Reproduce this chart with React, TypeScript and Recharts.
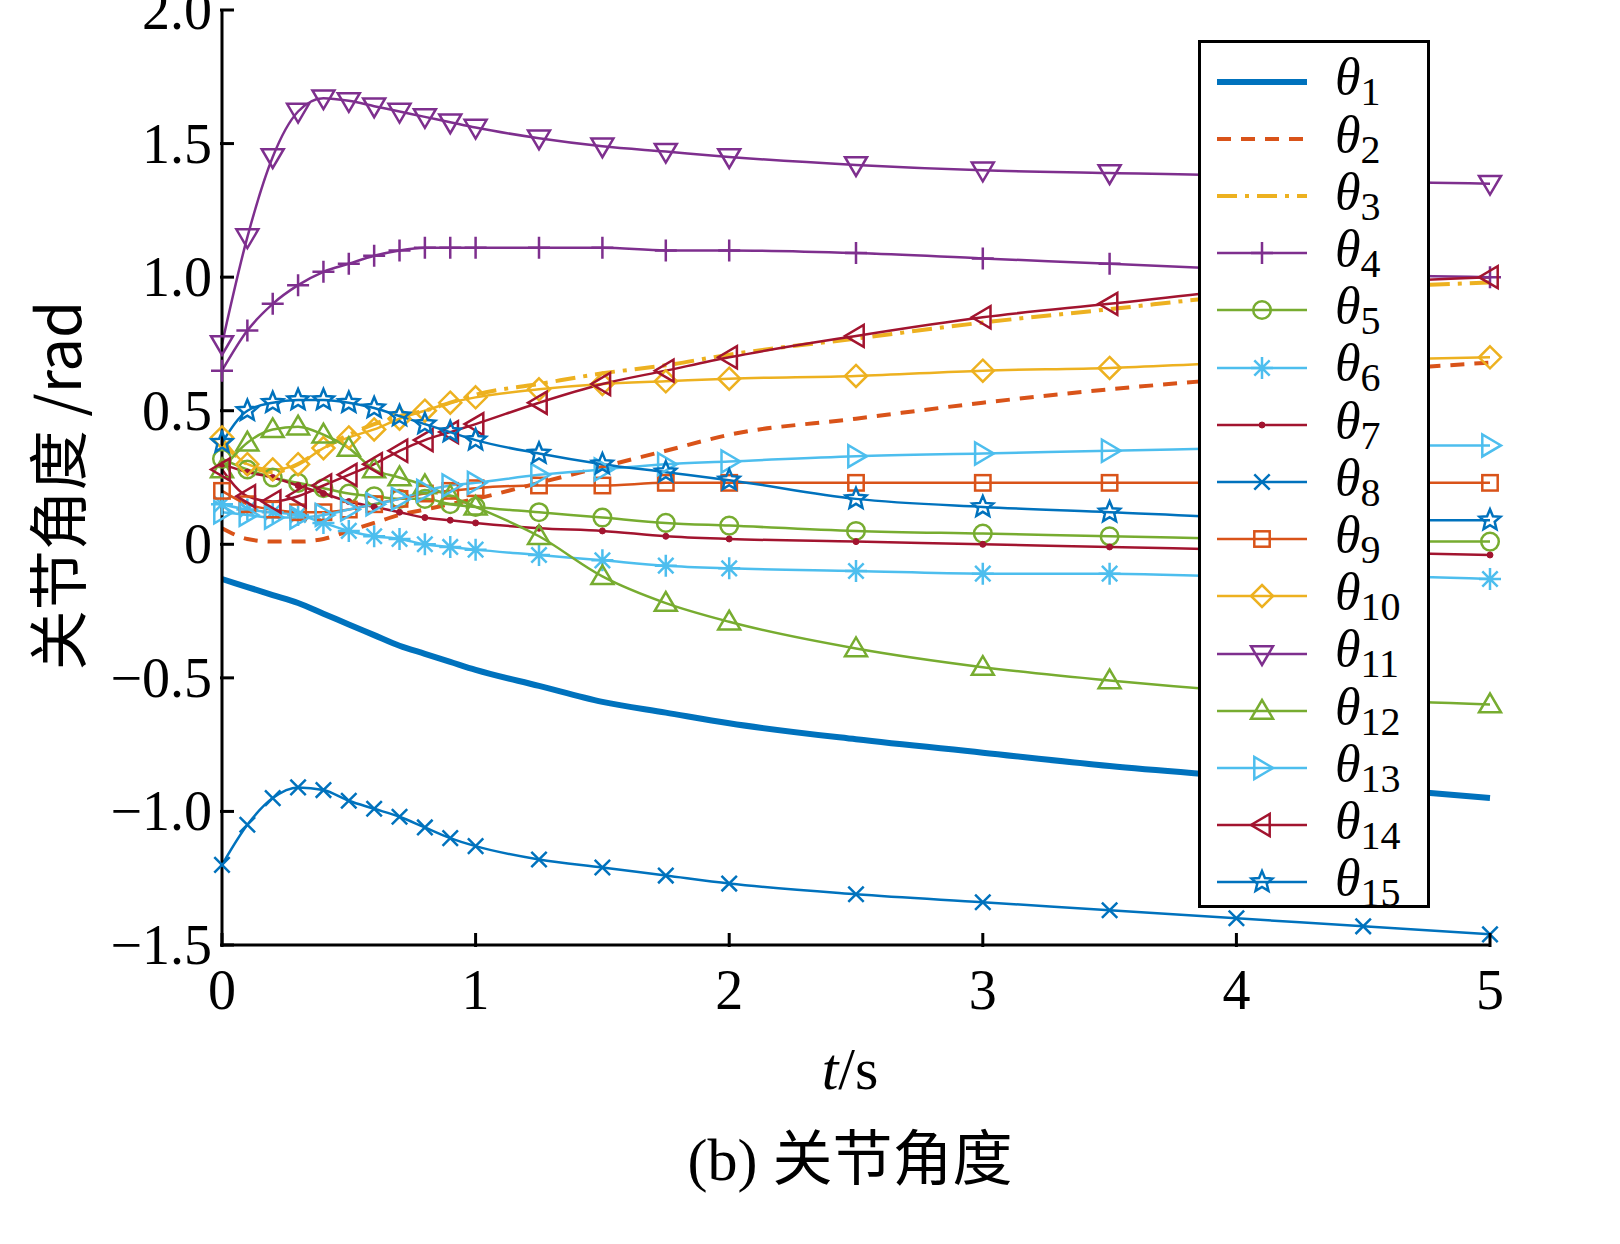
import React from "react";
import { LineChart, Line, XAxis, YAxis } from "recharts";

const T = [0, 0.1, 0.2, 0.3, 0.4, 0.5, 0.6, 0.7, 0.8, 0.9, 1.0, 1.25, 1.5, 1.75, 2, 2.5, 3, 3.5, 4, 4.5, 5];
const th1 = [-0.13, -0.16, -0.19, -0.22, -0.26, -0.3, -0.34, -0.38, -0.41, -0.44, -0.47, -0.53, -0.59, -0.63, -0.67, -0.73, -0.78, -0.83, -0.87, -0.91, -0.95];
const th2 = [0.06, 0.02, 0.01, 0.01, 0.02, 0.05, 0.08, 0.11, 0.13, 0.15, 0.17, 0.23, 0.29, 0.35, 0.41, 0.47, 0.53, 0.58, 0.62, 0.65, 0.68];
const th3 = [0.38, 0.3, 0.27, 0.3, 0.36, 0.41, 0.45, 0.48, 0.5, 0.53, 0.56, 0.6, 0.64, 0.67, 0.71, 0.77, 0.83, 0.88, 0.93, 0.96, 0.98];
const th4 = [0.65, 0.8, 0.9, 0.97, 1.02, 1.05, 1.08, 1.1, 1.11, 1.11, 1.11, 1.11, 1.11, 1.1, 1.1, 1.09, 1.07, 1.05, 1.03, 1.01, 1.0];
const th5 = [0.32, 0.28, 0.25, 0.23, 0.21, 0.19, 0.18, 0.17, 0.17, 0.15, 0.14, 0.12, 0.1, 0.08, 0.07, 0.05, 0.04, 0.03, 0.02, 0.01, 0.01];
const th6 = [0.15, 0.13, 0.12, 0.11, 0.08, 0.05, 0.03, 0.02, 0.0, -0.01, -0.02, -0.04, -0.06, -0.08, -0.09, -0.1, -0.11, -0.11, -0.12, -0.12, -0.13];
const th7 = [0.3, 0.27, 0.25, 0.22, 0.19, 0.16, 0.14, 0.12, 0.1, 0.09, 0.08, 0.06, 0.05, 0.03, 0.02, 0.01, 0.0, -0.01, -0.02, -0.03, -0.04];
const th8 = [-1.2, -1.05, -0.95, -0.91, -0.92, -0.96, -0.99, -1.02, -1.06, -1.1, -1.13, -1.18, -1.21, -1.24, -1.27, -1.31, -1.34, -1.37, -1.4, -1.43, -1.46];
const th9 = [0.2, 0.15, 0.13, 0.12, 0.12, 0.13, 0.15, 0.17, 0.19, 0.2, 0.21, 0.22, 0.22, 0.23, 0.23, 0.23, 0.23, 0.23, 0.23, 0.23, 0.23];
const th10 = [0.4, 0.3, 0.28, 0.3, 0.36, 0.4, 0.43, 0.47, 0.5, 0.53, 0.55, 0.58, 0.6, 0.61, 0.62, 0.63, 0.65, 0.66, 0.68, 0.69, 0.7];
const th11 = [0.75, 1.15, 1.45, 1.62, 1.67, 1.66, 1.64, 1.62, 1.6, 1.58, 1.56, 1.52, 1.49, 1.47, 1.45, 1.42, 1.4, 1.39, 1.38, 1.36, 1.35];
const th12 = [0.28, 0.38, 0.43, 0.44, 0.41, 0.36, 0.28, 0.25, 0.22, 0.18, 0.14, 0.03, -0.12, -0.22, -0.29, -0.39, -0.46, -0.51, -0.55, -0.58, -0.6];
const th13 = [0.12, 0.11, 0.1, 0.1, 0.11, 0.13, 0.15, 0.17, 0.2, 0.22, 0.23, 0.26, 0.28, 0.3, 0.31, 0.33, 0.34, 0.35, 0.36, 0.37, 0.37];
const th14 = [0.28, 0.18, 0.16, 0.18, 0.22, 0.26, 0.3, 0.35, 0.39, 0.42, 0.45, 0.53, 0.6, 0.65, 0.7, 0.78, 0.85, 0.9, 0.95, 0.98, 1.0];
const th15 = [0.38, 0.5, 0.53, 0.54, 0.54, 0.53, 0.51, 0.48, 0.45, 0.42, 0.39, 0.34, 0.3, 0.27, 0.24, 0.17, 0.14, 0.12, 0.1, 0.09, 0.09];

const ALL = [th1, th2, th3, th4, th5, th6, th7, th8, th9, th10, th11, th12, th13, th14, th15];
const COLORS = ["#0072BD", "#D95319", "#EDB120", "#7E2F8E", "#77AC30", "#4DBEEE", "#A2142F", "#0072BD", "#D95319", "#EDB120", "#7E2F8E", "#77AC30", "#4DBEEE", "#A2142F", "#0072BD"];
const MARKERS = ["none", "none", "none", "plus", "circle", "asterisk", "dot", "x", "square", "diamond", "down", "up", "right", "left", "star"];
const DASH = [undefined, "14 10", "20 8 4 8", undefined, undefined, undefined, undefined, undefined, undefined, undefined, undefined, undefined, undefined, undefined, undefined];
const WIDTH = [6, 4, 4, 2.5, 2.5, 2.5, 2.5, 2.5, 2.5, 2.5, 2.5, 2.5, 2.5, 2.5, 2.5];

const rows = T.map((t, i) => {
  const r: any = { t };
  ALL.forEach((s, k) => (r["s" + k] = s[i]));
  return r;
});

function shape(kind: string, cx: number, cy: number, c: string, s = 11) {
  const p = { stroke: c, strokeWidth: 2.5, fill: "none" };
  switch (kind) {
    case "plus": return <path d={`M${cx - s},${cy}H${cx + s}M${cx},${cy - s}V${cy + s}`} {...p} />;
    case "circle": return <circle cx={cx} cy={cy} r={s * 0.8} {...p} />;
    case "asterisk": return <path d={`M${cx - s},${cy}H${cx + s}M${cx},${cy - s}V${cy + s}M${cx - s * 0.7},${cy - s * 0.7}L${cx + s * 0.7},${cy + s * 0.7}M${cx - s * 0.7},${cy + s * 0.7}L${cx + s * 0.7},${cy - s * 0.7}`} {...p} />;
    case "dot": return <circle cx={cx} cy={cy} r={3} fill={c} stroke={c} />;
    case "x": return <path d={`M${cx - s * 0.7},${cy - s * 0.7}L${cx + s * 0.7},${cy + s * 0.7}M${cx - s * 0.7},${cy + s * 0.7}L${cx + s * 0.7},${cy - s * 0.7}`} {...p} />;
    case "square": return <rect x={cx - s * 0.7} y={cy - s * 0.7} width={s * 1.4} height={s * 1.4} {...p} />;
    case "diamond": return <path d={`M${cx},${cy - s}L${cx + s},${cy}L${cx},${cy + s}L${cx - s},${cy}Z`} {...p} />;
    case "down": return <path d={`M${cx - s},${cy - s * 0.7}H${cx + s}L${cx},${cy + s}Z`} {...p} />;
    case "up": return <path d={`M${cx - s},${cy + s * 0.7}H${cx + s}L${cx},${cy - s}Z`} {...p} />;
    case "right": return <path d={`M${cx - s * 0.7},${cy - s}V${cy + s}L${cx + s},${cy}Z`} {...p} />;
    case "left": return <path d={`M${cx + s * 0.7},${cy - s}V${cy + s}L${cx - s},${cy}Z`} {...p} />;
    case "star": {
      let d = "";
      for (let i = 0; i < 10; i++) {
        const a = -Math.PI / 2 + (i * Math.PI) / 5;
        const rr = i % 2 === 0 ? s : s * 0.45;
        d += (i === 0 ? "M" : "L") + (cx + rr * Math.cos(a)) + "," + (cy + rr * Math.sin(a));
      }
      return <path d={d + "Z"} {...p} />;
    }
  }
  return null;
}

const serif = "'Liberation Serif', 'Times New Roman', serif";
const YT = [-1.5, -1, -0.5, 0, 0.5, 1, 1.5, 2];
const YL = ["\u22121.5", "\u22121.0", "\u22120.5", "0", "0.5", "1.0", "1.5", "2.0"];
const XT = [0, 1, 2, 3, 4, 5];

const YTick = (props: any) => {
  const { x, y, payload } = props;
  const i = YT.indexOf(payload.value);
  return (
    <g>
      <line x1={x} x2={x + 14} y1={y} y2={y} stroke="#000" strokeWidth={3} />
      <text x={x - 8} y={y + 19} textAnchor="end" fontSize={56} fontFamily={serif} fill="#000">{YL[i]}</text>
    </g>
  );
};
const XTick = (props: any) => {
  const { x, y, payload } = props;
  return (
    <g>
      <line x1={x} x2={x} y1={y} y2={y - 14} stroke="#000" strokeWidth={3} />
      <text x={x} y={y + 62} textAnchor="middle" fontSize={56} fontFamily={serif} fill="#000">{payload.value}</text>
    </g>
  );
};

export default function App() {
  return (
    <div style={{ position: "absolute", left: 0, top: 0, width: 1620, height: 1244, background: "#fff" }}>
      <LineChart width={1620} height={1244} data={rows} margin={{ left: 122, right: 130, top: 10, bottom: 239 }}>
        <XAxis dataKey="t" type="number" domain={[0, 5]} ticks={XT} tick={<XTick />} tickLine={false} tickSize={0} height={60} axisLine={{ stroke: "#000", strokeWidth: 3 }} />
        <YAxis type="number" domain={[-1.5, 2]} ticks={YT} tick={<YTick />} tickLine={false} tickSize={0} width={100} axisLine={{ stroke: "#000", strokeWidth: 3 }} allowDataOverflow />
        {ALL.map((_, k) => (
          <Line key={k} dataKey={"s" + k} type="monotone" stroke={COLORS[k]} strokeWidth={WIDTH[k]} strokeDasharray={DASH[k]} isAnimationActive={false}
            dot={MARKERS[k] === "none" ? false : (p: any) => <g key={p.index}>{shape(MARKERS[k], p.cx, p.cy, COLORS[k])}</g>} />
        ))}
      </LineChart>
      <div style={{ position: "absolute", left: 0, top: 0, width: 1620, height: 1244, pointerEvents: "none" }}>
        <div style={{ position: "absolute", left: 15, top: 285, width: 80, height: 400, display: "flex", alignItems: "center", justifyContent: "center" }}>
          <div style={{ transform: "rotate(-90deg)", whiteSpace: "nowrap", fontSize: 60, fontFamily: "'Noto Sans CJK SC', " + serif }}>关节角度 /rad</div>
        </div>
        <div style={{ position: "absolute", left: 780, top: 1035, width: 140, textAlign: "center", fontSize: 60, fontFamily: serif }}><i>t</i>/s</div>
        <div style={{ position: "absolute", left: 550, top: 1110, width: 600, textAlign: "center", fontSize: 60, fontFamily: serif }}>(b) <span style={{ fontFamily: "'Noto Sans CJK SC'" }}>关节角度</span></div>
        <div style={{ position: "absolute", left: 1198, top: 40, width: 226, height: 862, border: "3px solid #000", background: "#fff" }}>
          {ALL.map((_, k) => (
            <div key={k} style={{ position: "absolute", left: 0, top: 10 + k * 57.2, height: 57, width: 226, display: "flex", alignItems: "center" }}>
              <svg width={110} height={40} style={{ marginLeft: 10 }}>
                <line x1={6} x2={96} y1={20} y2={20} stroke={COLORS[k]} strokeWidth={WIDTH[k]} strokeDasharray={DASH[k]} />
                {MARKERS[k] !== "none" && shape(MARKERS[k], 51, 20, COLORS[k])}
              </svg>
              <span style={{ fontFamily: serif, fontStyle: "italic", fontSize: 52, marginLeft: 14 }}>θ<sub style={{ fontStyle: "normal", fontSize: 40 }}>{k + 1}</sub></span>
            </div>
          ))}
        </div>
      </div>
    </div>
  );
}
